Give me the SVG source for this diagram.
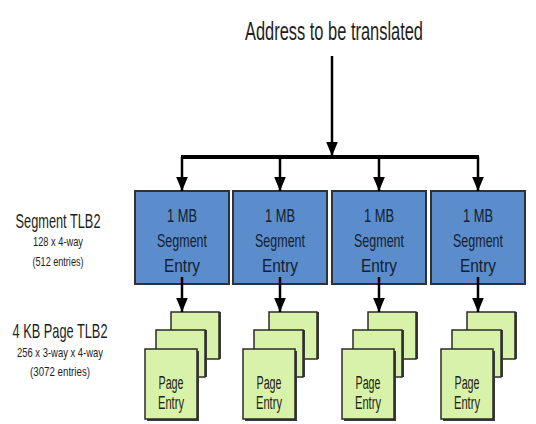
<svg xmlns="http://www.w3.org/2000/svg" width="536" height="424" viewBox="0 0 536 424">
<style>
.t{font-family:"Liberation Sans",Arial,sans-serif;fill:#1e1e1e;text-anchor:middle}
.seg{fill:#5b8dcc;stroke:#2e3236;stroke-width:2}
.bt{font-family:"Liberation Sans",Arial,sans-serif;fill:#15202e;font-size:19px;text-anchor:middle}
.card{fill:#d9f2a9;stroke:#2b2b2b;stroke-width:1.5}
.sh{fill:#3a3a3a}
.pt{font-family:"Liberation Sans",Arial,sans-serif;fill:#1e2418;font-size:18px;text-anchor:middle}
.ln{stroke:#000;stroke-width:2.5;fill:none}
</style>
<defs>
<marker id="ah" markerUnits="userSpaceOnUse" markerWidth="14" markerHeight="12" refX="12" refY="5" orient="auto" viewBox="0 0 12 10">
<path d="M0,0 L12,5 L0,10 Z" fill="#000"/>
</marker>
<g id="stack">
<rect class="sh" x="38" y="121" width="48" height="47"/>
<rect class="card" x="36" y="121" width="48" height="47"/>
<rect class="sh" x="23" y="139" width="49" height="47"/>
<rect class="card" x="21" y="139" width="49" height="47"/>
<rect class="sh" x="12" y="160" width="52" height="70"/>
<rect class="card" x="10" y="158" width="52" height="70"/>
</g>
</defs>
<text class="t" x="334" y="40" font-size="25" textLength="178" lengthAdjust="spacingAndGlyphs">Address to be translated</text>
<g id="labels">
<text class="t" x="58" y="228" font-size="20" textLength="85" lengthAdjust="spacingAndGlyphs">Segment TLB2</text>
<text class="t" x="58" y="246" font-size="13" textLength="50" lengthAdjust="spacingAndGlyphs">128 x 4-way</text>
<text class="t" x="58" y="266" font-size="13" textLength="51" lengthAdjust="spacingAndGlyphs">(512 entries)</text>
<text class="t" x="60" y="338" font-size="21" textLength="95" lengthAdjust="spacingAndGlyphs">4 KB Page TLB2</text>
<text class="t" x="60" y="357" font-size="13" textLength="86" lengthAdjust="spacingAndGlyphs">256 x 3-way x 4-way</text>
<text class="t" x="60" y="376" font-size="13" textLength="60" lengthAdjust="spacingAndGlyphs">(3072 entries)</text>
</g>
<g id="seg1"><rect class="seg" x="135" y="191" width="94" height="93"/><text class="bt" x="182" y="222" textLength="30" lengthAdjust="spacingAndGlyphs">1 MB</text><text class="bt" x="182" y="247" textLength="50" lengthAdjust="spacingAndGlyphs">Segment</text><text class="bt" x="182" y="272" textLength="36" lengthAdjust="spacingAndGlyphs">Entry</text></g>
<g id="seg2"><rect class="seg" x="233" y="191" width="94" height="93"/><text class="bt" x="280" y="222" textLength="30" lengthAdjust="spacingAndGlyphs">1 MB</text><text class="bt" x="280" y="247" textLength="50" lengthAdjust="spacingAndGlyphs">Segment</text><text class="bt" x="280" y="272" textLength="36" lengthAdjust="spacingAndGlyphs">Entry</text></g>
<g id="seg3"><rect class="seg" x="332" y="191" width="94" height="93"/><text class="bt" x="379" y="222" textLength="30" lengthAdjust="spacingAndGlyphs">1 MB</text><text class="bt" x="379" y="247" textLength="50" lengthAdjust="spacingAndGlyphs">Segment</text><text class="bt" x="379" y="272" textLength="36" lengthAdjust="spacingAndGlyphs">Entry</text></g>
<g id="seg4"><rect class="seg" x="431" y="191" width="94" height="93"/><text class="bt" x="478" y="222" textLength="30" lengthAdjust="spacingAndGlyphs">1 MB</text><text class="bt" x="478" y="247" textLength="50" lengthAdjust="spacingAndGlyphs">Segment</text><text class="bt" x="478" y="272" textLength="36" lengthAdjust="spacingAndGlyphs">Entry</text></g>
<g id="page1"><use href="#stack" x="135" y="191"/><text class="pt" x="171" y="389" textLength="25" lengthAdjust="spacingAndGlyphs">Page</text><text class="pt" x="171" y="409" textLength="26" lengthAdjust="spacingAndGlyphs">Entry</text></g>
<g id="page2"><use href="#stack" x="233" y="191"/><text class="pt" x="269" y="389" textLength="25" lengthAdjust="spacingAndGlyphs">Page</text><text class="pt" x="269" y="409" textLength="26" lengthAdjust="spacingAndGlyphs">Entry</text></g>
<g id="page3"><use href="#stack" x="332" y="191"/><text class="pt" x="368" y="389" textLength="25" lengthAdjust="spacingAndGlyphs">Page</text><text class="pt" x="368" y="409" textLength="26" lengthAdjust="spacingAndGlyphs">Entry</text></g>
<g id="page4"><use href="#stack" x="431" y="191"/><text class="pt" x="467" y="389" textLength="25" lengthAdjust="spacingAndGlyphs">Page</text><text class="pt" x="467" y="409" textLength="26" lengthAdjust="spacingAndGlyphs">Entry</text></g>
<g id="connectors">
<line class="ln" x1="332" y1="56" x2="332" y2="156" marker-end="url(#ah)"/>
<line x1="181" y1="157" x2="479" y2="157" stroke="#000" stroke-width="4"/>
<line class="ln" x1="182" y1="157" x2="182" y2="191" marker-end="url(#ah)"/>
<line class="ln" x1="280" y1="157" x2="280" y2="191" marker-end="url(#ah)"/>
<line class="ln" x1="379" y1="157" x2="379" y2="191" marker-end="url(#ah)"/>
<line class="ln" x1="478" y1="157" x2="478" y2="191" marker-end="url(#ah)"/>
<line class="ln" x1="182" y1="277" x2="182" y2="312" marker-end="url(#ah)"/>
<line class="ln" x1="280" y1="277" x2="280" y2="312" marker-end="url(#ah)"/>
<line class="ln" x1="379" y1="277" x2="379" y2="312" marker-end="url(#ah)"/>
<line class="ln" x1="478" y1="277" x2="478" y2="312" marker-end="url(#ah)"/>
</g>
</svg>
